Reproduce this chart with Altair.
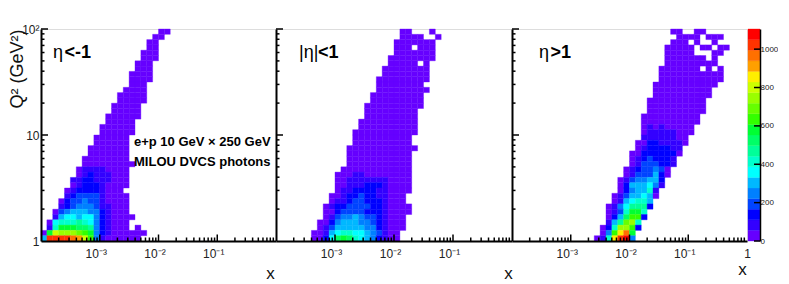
import altair as alt
import pandas as pd

# Band index of each cell (one band = 55.25 counts); rows are numbered from the top
BAND = 55.25
PALETTE = ["#6600ff", "#3300ff", "#0000ff", "#0044ff", "#0080ff", "#00b8ff", "#00ffff", "#00ffcc",
           "#00ff99", "#00ff66", "#00ff33", "#33ff00", "#66ff00", "#99ff00", "#ccff00", "#ffee00",
           "#ffa000", "#ff7000", "#ff3300", "#ff0000"]

P1_SPANS = [[[20,22]],[[19,21]],[[18,20]],[[18,20]],[[17,20]],[[17,20]],[[16,19]],[[16,19]],[[15,19]],[[15,19]],
            [[15,18]],[[14,18]],[[13,18]],[[13,18]],[[12,17]],[[12,17]],[[11,17]],[[11,16]],[[10,16]],[[10,16]],
            [[9,15]],[[9,15]],[[8,15]],[[8,15]],[[7,15]],[[7,16]],[[6,15]],[[6,15]],[[5,15]],[[5,15]],
            [[4,14]],[[4,15]],[[3,15]],[[3,15]],[[2,15]],[[2,16]],[[1,15]],[[1,15],[16,17]],[[0,18]],[[0,17]]]
P1_BANDS = {39:(0,[5,18,18,18,18,17,16,14,11,4,1]), 38:(0,[0,10,14,13,13,13,12,11,10,4,2,1]),
            37:(1,[1,7,10,10,10,9,9,8,4,2,1]), 36:(1,[0,6,7,7,7,8,7,6,4,2,1]),
            35:(2,[1,5,6,6,5,6,6,4,2,1]), 34:(2,[0,3,4,5,5,5,4,4,2,1]),
            33:(3,[1,2,3,4,4,4,3,1,1]), 32:(3,[0,2,3,3,4,3,3,1]), 31:(4,[1,2,3,3,3,3,1]),
            30:(4,[0,1,2,2,2,2,1]), 29:(5,[0,1,2,2,2,1]), 28:(5,[1,1,2,2,1,1,1]),
            27:(6,[0,1,2,1,1,1]), 26:(6,[0,1,1,1,1])}

P2_SPANS = [[[21,23],[26,27]],[[21,25],[27,28]],[[20,27]],[[20,23],[24,27]],[[20,27]],[[19,27]],[[19,24],[25,26]],
            [[18,26]],[[18,26]],[[17,26]],[[17,25]],[[17,26]],[[16,25]],[[16,25]],[[15,25]],[[15,24]],[[15,24]],
            [[14,24]],[[14,24]],[[13,24]],[[13,23]],[[13,23]],[[12,24]],[[12,23]],[[12,23]],[[12,23]],[[11,23]],
            [[10,23]],[[10,23]],[[10,23]],[[10,23]],[[9,22]],[[9,22]],[[8,23]],[[8,23]],[[8,22]],[[7,22]],[[7,22]],
            [[6,21]],[[6,21]]]
P2_BANDS = {39:(6,[0,0,2,6,9,10,9,7,6,5,4,2,1]), 38:(6,[0,0,1,5,6,7,7,6,6,5,4,3,1]),
            37:(7,[0,1,3,5,5,5,5,5,4,4,2,1]), 36:(7,[0,0,2,4,5,5,5,4,4,3,2,1]),
            35:(8,[0,1,3,4,4,5,4,3,3,2,1]), 34:(8,[0,0,2,3,3,3,3,2,2,2,1]),
            33:(9,[1,2,2,3,3,3,3,2,2,1]), 32:(9,[0,1,1,2,3,3,2,2,2,1]),
            31:(10,[0,1,2,2,3,2,2,1,1]), 30:(11,[1,1,2,2,2,2,1,1]),
            29:(12,[1,1,1,2,2,2,1]), 28:(12,[1,1,1,1,1,1,1]), 27:(13,[1,1])}

P3_SPANS = [[[27,29],[31,33]],[[28,32],[33,36]],[[27,30],[31,32],[34,35]],[[26,31],[32,34],[35,37]],
            [[26,31],[34,36]],[[26,33],[34,35]],[[26,35]],[[25,32],[33,34],[35,36]],[[25,36]],[[25,36]],
            [[24,35]],[[24,34]],[[24,34]],[[23,33]],[[23,33]],[[23,33]],[[22,32]],[[22,32]],[[22,31]],[[22,31]],
            [[22,30]],[[21,30]],[[21,29]],[[20,29]],[[20,28]],[[20,28]],[[19,27]],[[19,27]],[[18,26]],[[18,26]],
            [[18,25]],[[17,25]],[[17,24]],[[16,24]],[[16,23]],[[16,23]],[[16,22]],[[15,22]],[[15,21]],[[14,21]]]
P3_BANDS = {39:(14,[0,1,7,15,18,19,4]), 38:(15,[0,4,11,15,17,10]), 37:(15,[0,2,7,13,13,11,2]),
            36:(16,[1,5,8,12,13,7]), 35:(16,[0,2,5,9,11,11,2]), 34:(16,[0,1,3,7,10,10,7]),
            33:(16,[0,1,4,6,8,8,8,2]), 32:(17,[0,1,5,6,7,7,5]), 31:(17,[0,1,3,5,5,6,5,0]),
            30:(18,[0,2,4,5,5,7,1]), 29:(18,[0,2,5,5,5,6,4,1]), 28:(18,[0,1,3,4,4,5,5,2]),
            27:(19,[0,1,3,3,3,5,2,0]), 26:(19,[0,1,2,3,3,4,3,0]), 25:(20,[0,1,3,3,3,2,2,1]),
            24:(20,[0,1,2,3,2,2,2,1]), 23:(20,[0,0,2,2,2,2,2,2,0]), 22:(21,[0,1,2,2,2,2,1,1]),
            21:(21,[0,0,2,2,1,1,1,1,0]), 20:(22,[1,1,1,1,1,1]), 19:(22,[0,1,1,1,1,1]), 18:(22,[0,1,0,1])}

X_MAJOR = [1e-3, 1e-2, 1e-1]
Y_MAJOR = [10, 100]
Z_TICKS = [0, 200, 400, 600, 800, 1000]
H = 212
FONT = "Liberation Sans"

THRESH = [BAND * i for i in range(1, 20)]
ZSCALE = alt.Scale(type="threshold", domain=THRESH, range=PALETTE)
XS = alt.Scale(type="log", domain=[1e-4, 1], nice=False)
YS = alt.Scale(type="log", domain=[1, 100], nice=False)
X_MINOR = [m * 10.0 ** e for e in range(-4, 0) for m in range(2, 10)]
Y_MINOR = [m * 10.0 ** e for e in range(0, 2) for m in range(2, 10)]


def cells(spans, bands):
    rows = []
    for t, row in enumerate(spans):
        start, vals = bands.get(t, (0, []))
        r = 39 - t
        for a, b in row:
            for k in range(a, b):
                lvl = vals[k - start] if start <= k < start + len(vals) else 0
                rows.append(dict(x0=10 ** (-4 + k / 10), x1=10 ** (-4 + (k + 1) / 10),
                                 y0=10 ** (r / 20), y1=10 ** ((r + 1) / 20), z=(lvl + 0.5) * BAND))
    return pd.DataFrame(rows)


def label(txt, px, py, size, bold=False, color="#000"):
    return alt.Chart(pd.DataFrame({"t": [txt]})).mark_text(
        font=FONT, fontSize=size, fontWeight="bold" if bold else "normal",
        align="left", baseline="alphabetic", color=color
    ).encode(text="t:N", x=alt.value(px), y=alt.value(py))


def panel(spans, bands, width, xtitle_x, xtitle_y, texts, first=False, last=False):
    y_axis = alt.Axis(values=[1, 10, 100] if first else [1], title="Q\u00b2 (GeV\u00b2)" if first else None,
                      labels=first, labelExpr="datum.value==100?'10\\u00b2':datum.value==10?'10':'1'",
                      labelFont=FONT, labelFontSize=12, labelColor="#222", labelPadding=2,
                      ticks=False, grid=False, domainWidth=2, domainColor="#000", zindex=2,
                      titleFont=FONT, titleFontSize=18, titleFontWeight="normal",
                      titleColor="#111", titleX=-15, titleY=0, titleAlign="right", titleAnchor="end")
    vals = X_MAJOR + [1] if last else X_MAJOR
    x_axis = alt.Axis(values=vals, title="x",
                      labelExpr="datum.value==0.001?'10\\u207b\\u00b3':datum.value==0.01?'10\\u207b\\u00b2':datum.value==0.1?'10\\u207b\\u00b9':'1'",
                      labelFont=FONT, labelFontSize=12, labelColor="#222", labelPadding=7,
                      labelOffset={"condition": {"test": "datum.value<0.5", "value": -4}, "value": 0},
                      labelOverlap=False, labelFlush=False,
                      ticks=False, grid=False, domainWidth=2, domainColor="#000", zindex=2,
                      titleFont=FONT, titleFontSize=17, titleFontWeight="normal", titleColor="#111",
                      titleX=xtitle_x, titleY=xtitle_y, titleAnchor="middle", titleBaseline="alphabetic")
    rects = alt.Chart(cells(spans, bands)).mark_rect(strokeWidth=0.35).encode(
        x=alt.X("x0:Q", scale=XS, axis=x_axis),
        x2="x1:Q",
        y=alt.Y("y0:Q", scale=YS, axis=y_axis),
        y2="y1:Q",
        color=alt.Color("z:Q", scale=ZSCALE, legend=None),
        stroke=alt.Color("z:Q", scale=ZSCALE, legend=None),
    )
    tick = dict(color="#000", strokeWidth=1.5)
    xminor = alt.Chart(pd.DataFrame({"v": X_MINOR})).mark_rule(**tick).encode(
        x=alt.X("v:Q", scale=XS, axis=x_axis), y=alt.value(H), y2=alt.value(H - 3.5))
    xmajor = alt.Chart(pd.DataFrame({"v": X_MAJOR})).mark_rule(**tick).encode(
        x=alt.X("v:Q", scale=XS, axis=x_axis), y=alt.value(H), y2=alt.value(H - 6.5))
    yminor = alt.Chart(pd.DataFrame({"v": Y_MINOR})).mark_rule(**tick).encode(
        y=alt.Y("v:Q", scale=YS, axis=y_axis), x=alt.value(0), x2=alt.value(3.5))
    ymajor = alt.Chart(pd.DataFrame({"v": Y_MAJOR})).mark_rule(**tick).encode(
        y=alt.Y("v:Q", scale=YS, axis=y_axis), x=alt.value(0), x2=alt.value(7))
    return alt.layer(rects, xminor, xmajor, yminor, ymajor, *texts).properties(width=width, height=H)


p1 = panel(P1_SPANS, P1_BANDS, 235, 229, 37, [
    label("η", 12, 29, 18), label("<-1", 23.5, 29, 18, bold=True),
    label("e+p 10 GeV × 250 GeV", 93, 117, 13, bold=True),
    label("MILOU DVCS photons", 93, 137, 13, bold=True),
], first=True)
p2 = panel(P2_SPANS, P2_BANDS, 236, 232, 37, [
    label("|η|", 23, 29, 18), label("<1", 42, 29, 18, bold=True),
])
p3 = panel(P3_SPANS, P3_BANDS, 235, 230, 33, [
    label("η", 27, 29, 18), label(">1", 38.5, 29, 18, bold=True),
], last=True)

bar_df = pd.DataFrame({"z0": [BAND * i for i in range(20)], "z1": [BAND * (i + 1) for i in range(20)]})
bar_df["z"] = bar_df["z0"] + BAND / 2
ZY = alt.Scale(domain=[0, BAND * 20], nice=False)
zaxis = alt.Axis(orient="right", values=Z_TICKS, title=None, ticks=False, grid=False, format="d",
                 labelFont=FONT, labelFontSize=8, labelColor="#222", labelPadding=0,
                 domainWidth=1.5, domainColor="#000", zindex=2)
bar = alt.Chart(bar_df).mark_rect(strokeWidth=0.35).encode(
    x=alt.value(1), x2=alt.value(13),
    y=alt.Y("z0:Q", scale=ZY, axis=zaxis),
    y2="z1:Q",
    color=alt.Color("z:Q", scale=ZSCALE, legend=None),
    stroke=alt.Color("z:Q", scale=ZSCALE, legend=None),
)
bar_ticks = alt.Chart(pd.DataFrame({"v": Z_TICKS})).mark_rule(color="#000", strokeWidth=1.5).encode(
    y=alt.Y("v:Q", scale=ZY, axis=zaxis), x=alt.value(7), x2=alt.value(13))
cb = alt.layer(bar, bar_ticks).properties(width=13, height=H, view=alt.ViewConfig(strokeWidth=0))

chart = alt.hconcat(p1, p2, p3, cb, spacing=0, bounds="flush").properties(
    padding={"left": -1, "top": 14, "right": 0, "bottom": 0}
).configure_view(stroke="#555", strokeWidth=1).configure(background="white")

chart.save("out.html", embed_options={"renderer": "svg", "actions": False})
